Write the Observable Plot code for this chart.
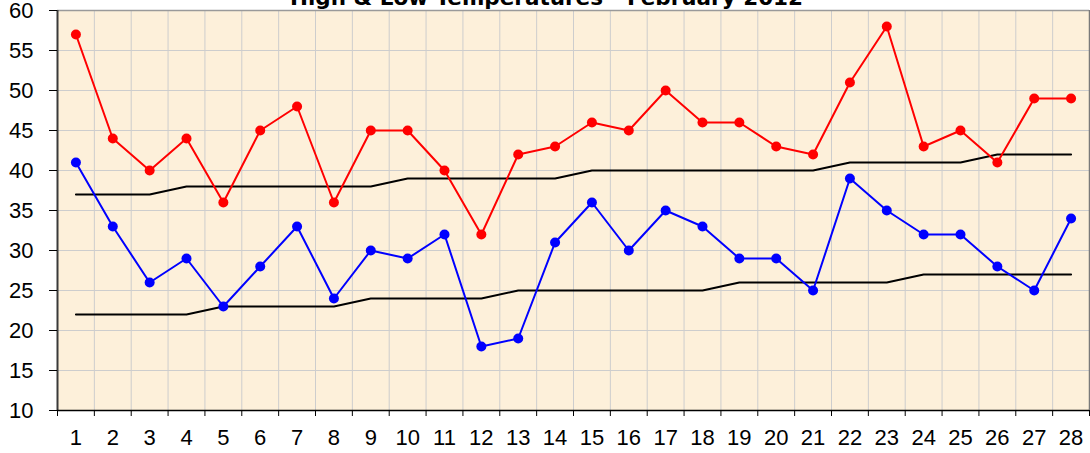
<!DOCTYPE html>
<html>
<head>
<meta charset="utf-8">
<script src="https://cdn.jsdelivr.net/npm/d3@7"></script>
<script src="https://cdn.jsdelivr.net/npm/@observablehq/plot@0.6"></script>
<style>
  html, body { margin: 0; padding: 0; background: #ffffff; }
  #chart svg { display: block; }
</style>
</head>
<body>
<div id="chart"></div>
<script>
const title = "High & Low Temperatures - February 2012";
const days = d3.range(1, 29);
const highs = [57,44,40,44,36,45,48,36,45,45,40,32,42,43,46,45,50,46,46,43,42,51,58,43,45,41,49,49];
const lows  = [41,33,26,29,23,28,33,24,30,29,32,18,19,31,36,30,35,33,29,29,25,39,35,32,32,28,25,34];
const normalHigh = [37,37,37,38,38,38,38,38,38,39,39,39,39,39,40,40,40,40,40,40,40,41,41,41,41,42,42,42];
const normalLow  = [22,22,22,22,23,23,23,23,24,24,24,24,25,25,25,25,25,25,26,26,26,26,26,27,27,27,27,27];
const yTicks = d3.range(10, 61, 5);

const rows = (vals) => days.map((d, i) => ({day: d, v: vals[i]}));
const bounds = d3.range(0.5, 29, 1);

const chart = Plot.plot({
  width: 1090,
  height: 453,
  marginLeft: 57,
  marginRight: 1,
  marginTop: 10,
  marginBottom: 43,
  style: {background: "#ffffff", overflow: "hidden"},
  x: {type: "linear", domain: [0.5, 28.5]},
  y: {domain: [10, 60]},
  marks: [
    Plot.frame({fill: "#fdf0da", stroke: null}),
    Plot.gridX(bounds, {stroke: "#cdcdcd", strokeOpacity: 1, strokeWidth: 1}),
    Plot.gridY(yTicks, {stroke: "#cdcdcd", strokeOpacity: 1, strokeWidth: 1}),
    Plot.ruleY([60], {stroke: "#9a9a9a", strokeWidth: 1.5}),
    Plot.ruleX([28.5], {stroke: "#7a7a7a", strokeWidth: 1.5}),
    Plot.line(rows(normalHigh), {x: "day", y: "v", stroke: "#000000", strokeWidth: 2}),
    Plot.line(rows(normalLow), {x: "day", y: "v", stroke: "#000000", strokeWidth: 2}),
    Plot.line(rows(highs), {x: "day", y: "v", stroke: "#ff0000", strokeWidth: 2}),
    Plot.dot(rows(highs), {x: "day", y: "v", fill: "#ff0000", r: 5}),
    Plot.line(rows(lows), {x: "day", y: "v", stroke: "#0000ff", strokeWidth: 2}),
    Plot.dot(rows(lows), {x: "day", y: "v", fill: "#0000ff", r: 5}),
    Plot.ruleX([0.5], {stroke: "#3a3a3a", strokeWidth: 2}),
    Plot.ruleY([10], {stroke: "#000000", strokeWidth: 1.5}),
    Plot.axisY(yTicks, {tickSize: 8, tickPadding: 16, fontSize: 22, fontFamily: "Liberation Sans, Arial, sans-serif", fill: "#000", stroke: "#000", label: null, tickFormat: d => String(d)}),
    Plot.axisX(bounds, {tickSize: 6, tickFormat: () => "", label: null, stroke: "#000"}),
    Plot.axisX(days, {tickSize: 0, tickPadding: 19, fontSize: 22, fontFamily: "Liberation Sans, Arial, sans-serif", fill: "#000", label: null, tickFormat: d => String(d)}),
    Plot.text([title], {frameAnchor: "top", dx: -27, dy: -12, text: d => d, fontSize: 21.5, fontWeight: "bold", fontFamily: "DejaVu Sans, Verdana, sans-serif", fill: "#000", lineAnchor: "middle"})
  ]
});
document.getElementById("chart").appendChild(chart);
</script>
</body>
</html>
